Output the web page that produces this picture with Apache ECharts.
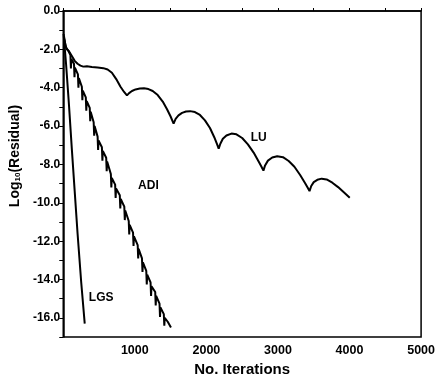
<!DOCTYPE html>
<html>
<head>
<meta charset="utf-8">
<script src="https://cdn.jsdelivr.net/npm/echarts@6/dist/echarts.min.js"></script>
<style>html,body{margin:0;padding:0;background:#fff}#c{width:438px;height:382px}</style>
</head>
<body>
<div id="c"></div>
<script>
// ---- data ----
const xTickLabels = ['1000', '2000', '3000', '4000', '5000'];
const yTickLabels = ['0.0', '-2.0', '-4.0', '-6.0', '-8.0', '-10.0', '-12.0', '-14.0', '-16.0'];

const luData = [
  [10, -1.3], [30, -1.8], [50, -2.0], [80, -2.1], [120, -2.35], [160, -2.6], [200, -2.75],
  [240, -2.85], [280, -2.9], [330, -2.88], [400, -2.92], [480, -2.95], [560, -2.98],
  [620, -3.05], [680, -3.22], [740, -3.55], [800, -3.95], [850, -4.22], [890, -4.40],
  [920, -4.28], [960, -4.17], [1010, -4.09], [1070, -4.04], [1128, -4.03], [1190, -4.07],
  [1250, -4.17], [1320, -4.38], [1390, -4.72], [1450, -5.12], [1500, -5.50], [1542, -5.87],
  [1570, -5.62], [1610, -5.44], [1660, -5.31], [1715, -5.24], [1772, -5.22], [1840, -5.27],
  [1910, -5.42], [1980, -5.70], [2050, -6.10], [2110, -6.58], [2150, -6.95], [2172, -7.18],
  [2195, -6.92], [2230, -6.66], [2280, -6.49], [2350, -6.39], [2420, -6.43], [2500, -6.62],
  [2580, -6.95], [2660, -7.38], [2730, -7.85], [2770, -8.12], [2797, -8.32],
  [2820, -8.05], [2860, -7.80], [2920, -7.64], [2990, -7.57], [3070, -7.62], [3150, -7.82],
  [3230, -8.12], [3310, -8.55], [3380, -8.98], [3420, -9.24], [3441, -9.39],
  [3465, -9.12], [3500, -8.92], [3550, -8.80], [3611, -8.74], [3680, -8.78], [3760, -8.95],
  [3840, -9.18], [3920, -9.45], [4003, -9.73]
];

const adiData = [
  [10, -1.4], [40, -1.9], [71, -2.07],
  [100, -2.3], [107, -3.0], [113, -2.5],
  [150, -2.75], [157, -3.45], [163, -2.95],
  [205, -3.3], [212, -4.0], [218, -3.5],
  [260, -3.95], [267, -4.65], [273, -4.15],
  [315, -4.5], [322, -5.2], [328, -4.7],
  [370, -5.05], [377, -5.75], [383, -5.25],
  [425, -5.8], [432, -6.5], [438, -6.0],
  [480, -6.55], [487, -7.25], [493, -6.75],
  [540, -7.1], [547, -7.8], [553, -7.3],
  [600, -7.65], [607, -8.35], [613, -7.85],
  [665, -8.5], [672, -9.2], [678, -8.7],
  [725, -9.05], [732, -9.75], [738, -9.25],
  [790, -9.6], [797, -10.3], [803, -9.8],
  [853, -10.2], [860, -10.9], [866, -10.4],
  [915, -10.95], [922, -11.65], [928, -11.15],
  [975, -11.55], [982, -12.25], [988, -11.75],
  [1040, -12.2], [1047, -12.9], [1053, -12.4],
  [1100, -12.9], [1107, -13.6], [1113, -13.1],
  [1160, -13.55], [1167, -14.25], [1173, -13.75],
  [1220, -14.15], [1227, -14.85], [1233, -14.35],
  [1285, -14.65], [1292, -15.35], [1298, -14.85],
  [1345, -15.25], [1352, -15.95], [1358, -15.45],
  [1405, -15.8], [1412, -16.4], [1418, -16.0],
  [1460, -16.2], [1505, -16.5]
];

const lgsData = [
  [5, -1.2], [40, -2.8], [80, -4.9], [120, -7.2], [160, -9.4], [200, -11.6], [250, -14.1], [300, -16.3]
];

const seriesNames = ['LU', 'ADI', 'LGS'];
const labelPositions = [[2730, -6.6], [1190, -9.1], [530, -14.95]];

// ---- chart ----
const chart = echarts.init(document.getElementById('c'), null, { renderer: 'canvas' });
const font = 'Liberation Sans, Arial, sans-serif';
const allData = [luData, adiData, lgsData];

chart.setOption({
  animation: false,
  backgroundColor: '#fff',
  grid: { left: 62, right: 15, top: 11, bottom: 38, show: true, borderColor: '#000', borderWidth: 1.5, backgroundColor: 'transparent' },
  xAxis: {
    type: 'value', min: 0, max: 5000, interval: 500,
    axisLine: { show: true, lineStyle: { color: '#000', width: 1.5 } },
    axisTick: { show: true, inside: true, length: 3, lineStyle: { color: '#000' } },
    splitLine: { show: false },
    axisLabel: {
      color: '#000', fontFamily: font, fontWeight: 'bold', fontSize: 12.5, margin: 7,
      formatter: v => { const s = String(v); return xTickLabels.indexOf(s) >= 0 ? s : ''; }
    },
    name: 'No. Iterations', nameLocation: 'middle', nameGap: 24,
    nameTextStyle: { color: '#000', fontFamily: font, fontWeight: 'bold', fontSize: 15 }
  },
  yAxis: {
    type: 'value', min: -17, max: 0, interval: 1,
    axisLine: { show: true, onZero: false, lineStyle: { color: '#000', width: 1.5 } },
    axisTick: { show: true, inside: false, length: 4, lineStyle: { color: '#000' } },
    splitLine: { show: false },
    axisLabel: {
      color: '#000', fontFamily: font, fontWeight: 'bold', fontSize: 12, margin: 3,
      formatter: v => { const s = (Math.abs(v) < 1e-9 ? 0 : v).toFixed(1); return yTickLabels.indexOf(s) >= 0 ? s : ''; }
    },
    name: '{a|Log}{s|10}{a|(Residual)}', nameLocation: 'middle', nameGap: 33,
    nameTextStyle: {
      padding: [0, 0, 0, 36],
      rich: {
        a: { color: '#000', fontFamily: font, fontWeight: 'bold', fontSize: 14 },
        s: { color: '#000', fontFamily: font, fontWeight: 'bold', fontSize: 8, verticalAlign: 'bottom', padding: [6, 0, 0, 0] }
      }
    }
  },
  series: seriesNames.map((n, i) => ({
    name: n, type: 'line', data: allData[i], showSymbol: false, symbol: 'none',
    lineStyle: { color: '#000', width: 2 }, clip: true,
    markPoint: {
      symbol: 'circle', symbolSize: 0,
      data: [{ coord: labelPositions[i], value: n }],
      label: { show: true, position: 'inside', formatter: n, color: '#000', fontFamily: font, fontWeight: 'bold', fontSize: 12 }
    }
  }))
});
</script>
</body>
</html>
